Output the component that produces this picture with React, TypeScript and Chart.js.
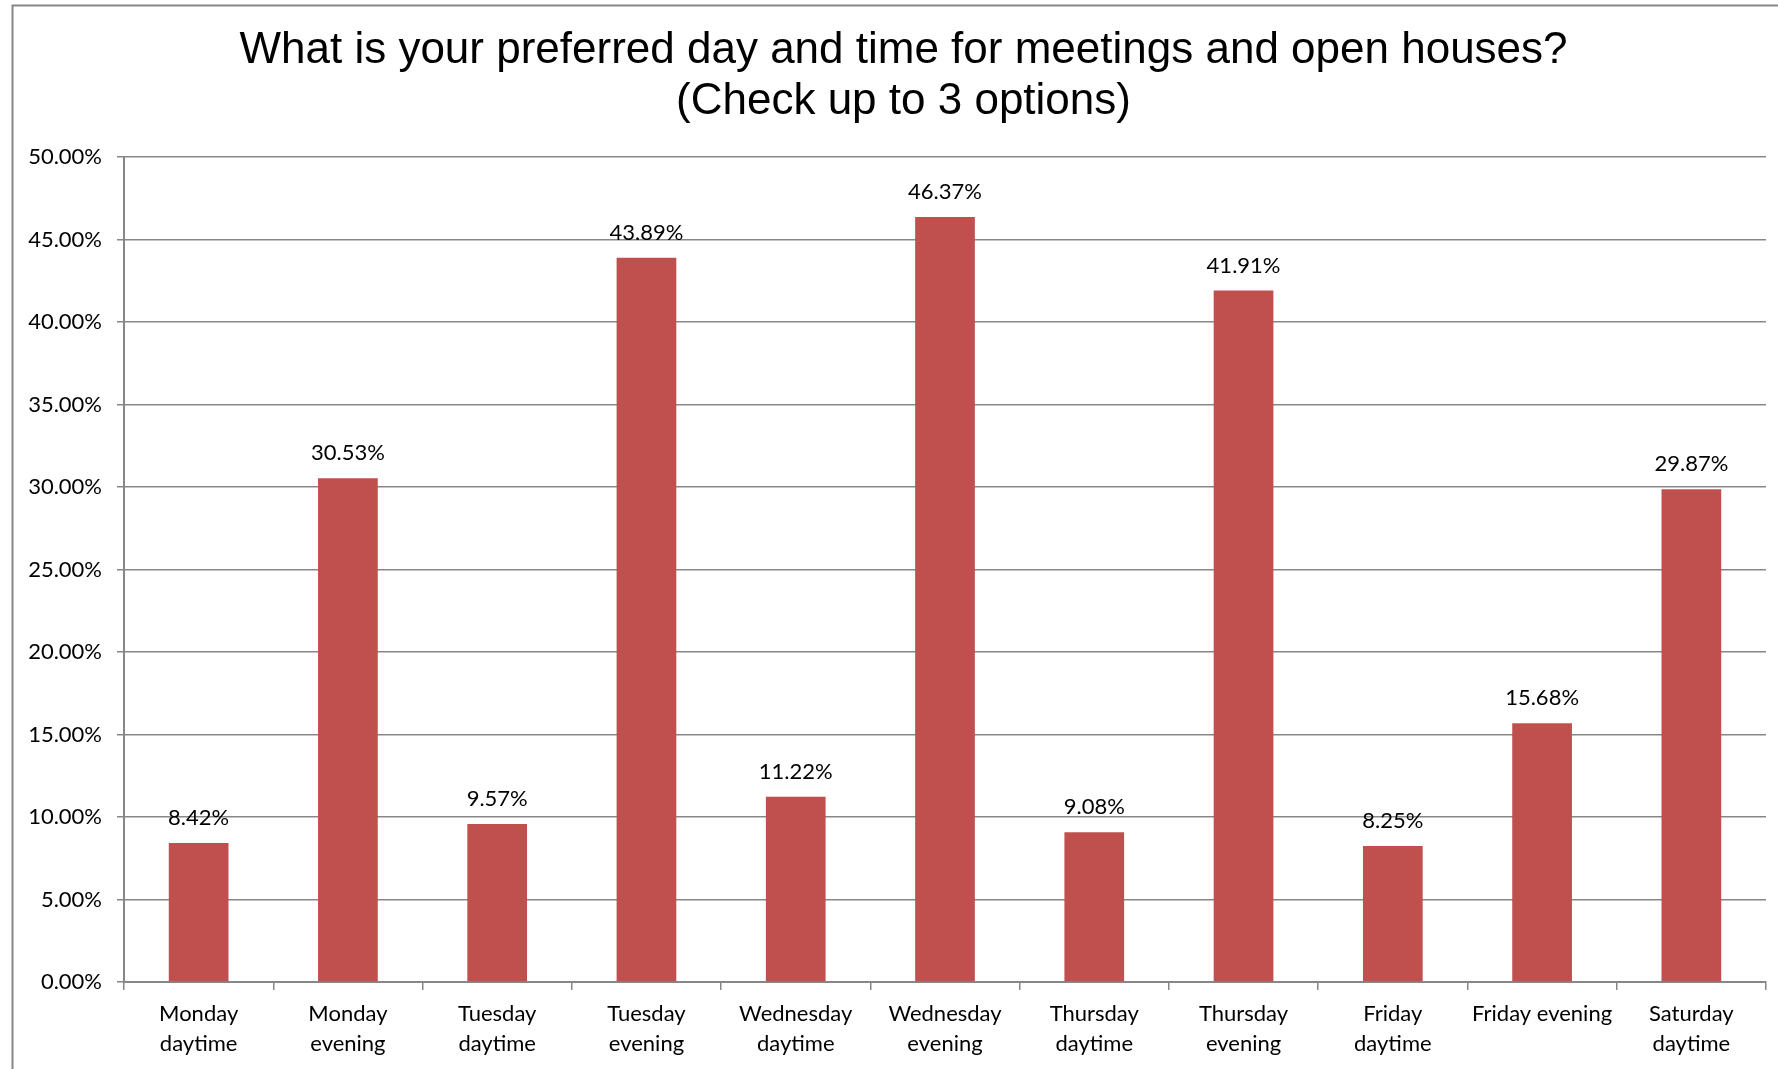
import React, { useEffect, useRef } from "react";
import { Chart, registerables } from "chart.js";

Chart.register(...registerables);

const titleLines = [
  "What is your preferred day and time for meetings and open houses?",
  "(Check up to 3 options)",
];

const categories: string[][] = [
  ["Monday", "daytime"],
  ["Monday", "evening"],
  ["Tuesday", "daytime"],
  ["Tuesday", "evening"],
  ["Wednesday", "daytime"],
  ["Wednesday", "evening"],
  ["Thursday", "daytime"],
  ["Thursday", "evening"],
  ["Friday", "daytime"],
  ["Friday evening"],
  ["Saturday", "daytime"],
];

const values: number[] = [8.42, 30.53, 9.57, 43.89, 11.22, 46.37, 9.08, 41.91, 8.25, 15.68, 29.87];

const yMin = 0;
const yMax = 50;
const yStep = 5;

const BAR_COLOR = "#C0504D";
const GRID_COLOR = "#878787";
const LABEL_FONT = "Lato";

const frameTitleLabels = {
  id: "frameTitleLabels",
  beforeDraw(chart: any) {
    const ctx = chart.ctx;
    ctx.save();
    ctx.fillStyle = "#ffffff";
    ctx.fillRect(0, 0, chart.width, chart.height);
    ctx.strokeStyle = GRID_COLOR;
    ctx.lineWidth = 2;
    ctx.strokeRect(12.5, 5.5, 1782, 1200);
    // title, centred on the chart frame
    ctx.fillStyle = "#000000";
    ctx.font = "44px 'Liberation Sans', Arial, sans-serif";
    ctx.textAlign = "center";
    ctx.textBaseline = "middle";
    const cx = (12.5 + 1794.5) / 2;
    titleLines.forEach((line, i) => {
      ctx.fillText(line, cx, 51 + i * 51);
    });
    ctx.restore();
  },
  afterDatasetsDraw(chart: any) {
    const ctx = chart.ctx;
    const meta = chart.getDatasetMeta(0);
    const data = chart.data.datasets[0].data as number[];
    ctx.save();
    ctx.font = `22px ${LABEL_FONT}`;
    ctx.fillStyle = "#000000";
    ctx.textAlign = "center";
    ctx.textBaseline = "middle";
    meta.data.forEach((bar: any, i: number) => {
      ctx.fillText(data[i].toFixed(2) + "%", bar.x, bar.y - 25);
    });
    ctx.restore();
  },
};

export default function App() {
  const ref = useRef<HTMLCanvasElement | null>(null);

  useEffect(() => {
    if (!ref.current) return;
    const chart = new Chart(ref.current, {
      type: "bar",
      data: {
        labels: categories,
        datasets: [
          {
            data: values,
            backgroundColor: BAR_COLOR,
            barPercentage: 0.4,
            categoryPercentage: 1,
          },
        ],
      },
      options: {
        responsive: false,
        animation: false,
        devicePixelRatio: 1,
        layout: { padding: { left: 0, right: 40, top: 157, bottom: 0 } },
        plugins: {
          legend: { display: false },
          tooltip: { enabled: false },
          title: { display: false },
        },
        scales: {
          x: {
            offset: true,
            grid: {
              display: true,
              offset: true,
              drawOnChartArea: false,
              drawTicks: true,
              tickLength: 8,
              color: GRID_COLOR,
              lineWidth: 1.5,
            },
            border: { display: true, color: GRID_COLOR, width: 2 },
            ticks: {
              color: "#000000",
              font: { family: LABEL_FONT, size: 22, lineHeight: 30 / 22 },
              padding: 9,
              maxRotation: 0,
              autoSkip: false,
            },
            afterFit(scale: any) {
              scale.height = 87;
            },
          },
          y: {
            min: yMin,
            max: yMax,
            grid: {
              color: GRID_COLOR,
              lineWidth: 1.5,
              drawTicks: true,
              tickLength: 7,
            },
            border: { display: true, color: GRID_COLOR, width: 2 },
            ticks: {
              stepSize: yStep,
              color: "#000000",
              font: { family: LABEL_FONT, size: 22 },
              padding: 15,
              callback: (v: any) => Number(v).toFixed(2) + "%",
            },
            afterFit(scale: any) {
              scale.width = 124;
            },
          },
        },
      },
      plugins: [frameTitleLabels],
    });
    return () => chart.destroy();
  }, []);

  return (
    <div
      style={{
        position: "fixed",
        left: 0,
        top: 0,
        width: 1778,
        height: 1069,
        overflow: "hidden",
        background: "#ffffff",
      }}
    >
      <canvas ref={ref} width={1806} height={1069} style={{ display: "block" }} />
    </div>
  );
}
